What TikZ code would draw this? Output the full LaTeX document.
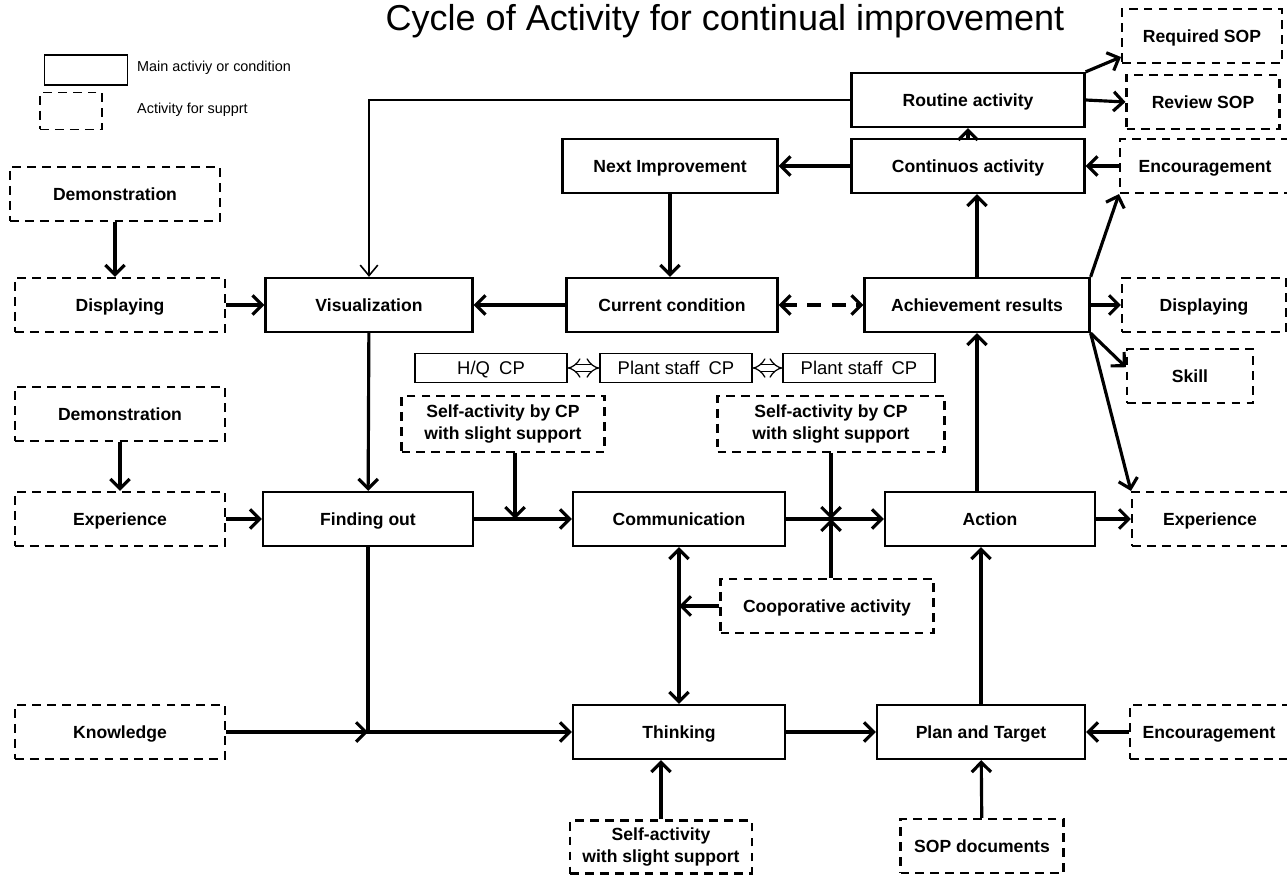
\documentclass[tikz,border=0pt]{standalone}
\usepackage{fontspec}
\setmainfont{Liberation Sans}
\usetikzlibrary{arrows.meta}

\begin{document}
\begin{tikzpicture}[x=0.02cm, y=-0.02cm,
  mainbox/.style={draw, line width=1.3pt, minimum height=1.08cm, inner sep=2pt, text height=7.2pt, text depth=0pt, font=\bfseries\fontsize{10}{13}\selectfont},
  supbox/.style={draw, line width=1.2pt, dash pattern=on 5pt off 3.5pt, minimum height=1.08cm, inner sep=2pt, text height=7.2pt, text depth=0pt, font=\bfseries\fontsize{10}{13}\selectfont},
  suptwo/.style={draw, line width=1.2pt, dash pattern=on 5pt off 3.5pt, minimum height=1.08cm, inner sep=2pt, align=center, font=\bfseries\fontsize{10}{13}\selectfont},
  cpbox/.style={draw, line width=0.7pt, minimum width=3.04cm, minimum height=0.58cm, text height=7.5pt, text depth=0pt, font=\fontsize{10.5}{12}\selectfont},
  arr/.style={line width=1.8pt, -{Straight Barb[length=5.5pt,width=11pt]}},
  arrboth/.style={line width=1.8pt, {Straight Barb[length=5.5pt,width=11pt]}-{Straight Barb[length=5.5pt,width=11pt]}},
  thinarr/.style={line width=0.9pt, -{Straight Barb[length=6pt,width=10pt]}},
  dblarr/.style={double, double distance=3.2pt, line width=0.7pt, {Implies}-{Implies}}]

\useasboundingbox (0,0) rectangle (1287,875);

\node[font=\fontsize{20.5}{24}\selectfont] (title) at (725,21) {Cycle of Activity for continual improvement};

% legend
\node[draw, line width=1.1pt, minimum width=1.66cm, minimum height=0.6cm] (lgmain) at (86,70) {};
\node[supbox, line width=1.1pt, minimum width=1.24cm, minimum height=0.74cm] (lgsup) at (71,111) {};
\node[anchor=west, font=\fontsize{8.2}{10}\selectfont] (lgmaintxt) at (131,68) {Main activiy or condition};
\node[anchor=west, font=\fontsize{8.2}{10}\selectfont] (lgsuptxt) at (131,110) {Activity for supprt};

% main activities
\node[mainbox, minimum width=4.66cm] (routine) at (968,100) {Routine activity};
\node[mainbox, minimum width=4.66cm] (contin) at (968,166) {Continuos activity};
\node[mainbox, minimum width=4.3cm] (nextimp) at (670,166) {Next Improvement};
\node[mainbox, minimum width=4.14cm] (visual) at (369,305) {Visualization};
\node[mainbox, minimum width=4.22cm] (current) at (672,305) {Current condition};
\node[mainbox, minimum width=4.5cm] (achieve) at (977,305) {Achievement results};
\node[mainbox, minimum width=4.2cm] (findout) at (368,519) {Finding out};
\node[mainbox, minimum width=4.24cm] (commun) at (679,519) {Communication};
\node[mainbox, minimum width=4.2cm] (action) at (990,519) {Action};
\node[mainbox, minimum width=4.24cm] (thinking) at (679,732) {Thinking};
\node[mainbox, minimum width=4.16cm] (plan) at (981,732) {Plan and Target};

% counterparts
\node[cpbox] (hqcp) at (491,368) {H/Q\enspace CP};
\node[cpbox] (plantA) at (676,368) {Plant staff\enspace CP};
\node[cpbox] (plantB) at (859,368) {Plant staff\enspace CP};

% support
\node[supbox, minimum width=3.2cm] (reqsop) at (1202,36) {Required SOP};
\node[supbox, minimum width=3.06cm] (revsop) at (1203,102) {Review SOP};
\node[supbox, minimum width=3.4cm] (encA) at (1205,166) {Encouragement};
\node[supbox, minimum width=3.28cm] (dispB) at (1204,305) {Displaying};
\node[supbox, minimum width=2.52cm] (skill) at (1190,376) {Skill};
\node[supbox, minimum width=3.12cm] (expB) at (1210,519) {Experience};
\node[supbox, minimum width=3.16cm] (encB) at (1209,732) {Encouragement};
\node[supbox, minimum width=3.26cm] (sopdoc) at (982,846) {SOP documents};
\node[suptwo, minimum width=3.64cm, minimum height=1.06cm] (selfC) at (661,847) {Self-activity\\with slight support};
\node[supbox, minimum width=4.26cm] (coop) at (827,606) {Cooporative activity};
\node[suptwo, minimum width=4.06cm, minimum height=1.12cm] (selfA) at (503,424) {Self-activity by CP\\with slight support};
\node[suptwo, minimum width=4.54cm, minimum height=1.12cm] (selfB) at (831,424) {Self-activity by CP\\with slight support};
\node[supbox, minimum width=4.2cm] (demoA) at (115,194) {Demonstration};
\node[supbox, minimum width=4.2cm] (dispA) at (120,305) {Displaying};
\node[supbox, minimum width=4.2cm] (demoB) at (120,414) {Demonstration};
\node[supbox, minimum width=4.2cm] (expA) at (120,519) {Experience};
\node[supbox, minimum width=4.2cm] (knowl) at (120,732) {Knowledge};

\coordinate (meetA) at (515,519);
\coordinate (meetB) at (831,519);
\coordinate (meetC) at (368,732);

% upper loop
\draw[arr] (routine.north east) -- ([yshift=4pt]reqsop.south west);
\draw[arr] (routine.east) -- (revsop.west);
\draw[thinarr] (routine.west) -| (visual.north);
\draw[arr] (contin) -- (routine);
\draw[arr] (contin) -- (nextimp);
\draw[arr] (encA) -- (contin);
\draw[arr] (nextimp.south) -- (nextimp.south |- current.north);
\draw[arr] (current) -- (visual);
\draw[arrboth, dash pattern=on 8pt off 6pt] (current) -- (achieve);
\draw[arr] (achieve.north) -- (achieve.north |- contin.south);
\draw[arr] (achieve.north east) -- (encA.south west);
\draw[arr] (achieve) -- (dispB);
\draw[arr] (achieve.south east) -- ([yshift=5pt]skill.west);
\draw[arr] (achieve.south east) -- (expB.north west);

% left side
\draw[arr] (demoA.south) -- (demoA.south |- dispA.north);
\draw[arr] (dispA) -- (visual);
\draw[arr] (visual) -- (findout);
\draw[arr] (demoB) -- (expA);
\draw[arr] (expA) -- (findout);

% middle
\draw[arr] (findout) -- (commun);
\draw[arr] (selfA.south -| meetA) -- (meetA);
\draw[arr] (commun) -- (action);
\draw[arr] (selfB.south -| meetB) -- (meetB);
\draw[arr] (coop.north -| meetB) -- (meetB);
\draw[arrboth] (commun) -- (thinking);
\draw[arr] (coop.west) -- (coop.west -| commun.south);
\draw[dblarr] (hqcp) -- (plantA);
\draw[dblarr] (plantA) -- (plantB);

% lower
\draw[arr] (knowl) -- (meetC);
\draw[arr] (findout.south) |- (thinking.west);
\draw[arr] (thinking) -- (plan);
\draw[arr] (plan.north) -- (plan.north |- action.south);
\draw[arr] (achieve.south |- action.north) -- (achieve.south);
\draw[arr] (action) -- (expB);
\draw[arr] (encB) -- (plan);
\draw[arr] (sopdoc) -- (plan);
\draw[arr] (selfC.north) -- (selfC.north |- thinking.south);

\end{tikzpicture}
\end{document}
